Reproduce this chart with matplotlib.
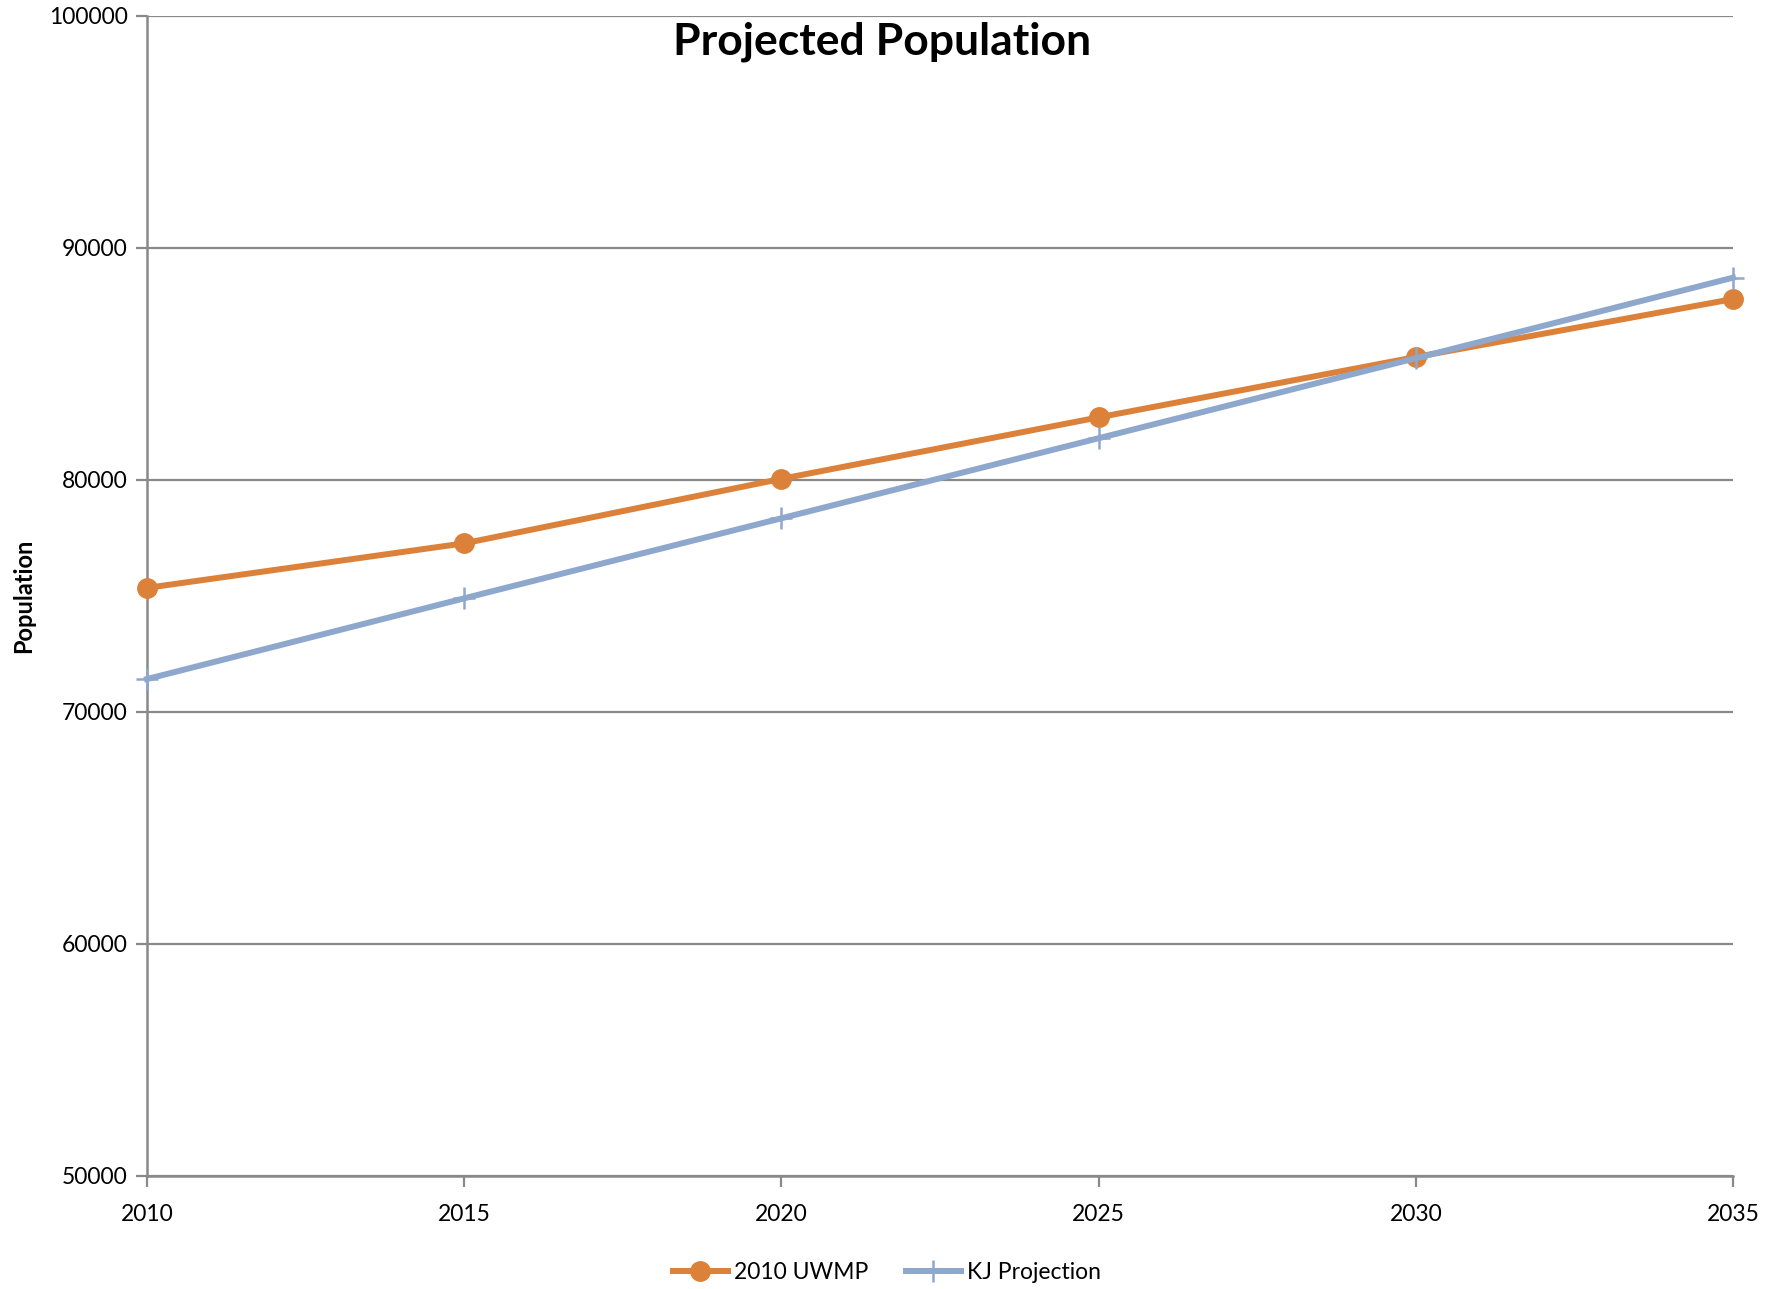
import matplotlib
matplotlib.use("Agg")
import matplotlib.pyplot as plt

years = [2010, 2015, 2020, 2025, 2030, 2035]
uwmp_2010 = [75350, 77270, 80050, 82700, 85300, 87800]
kj_projection = [71420, 74900, 78350, 81800, 85250, 88720]
y_ticks = [50000, 60000, 70000, 80000, 90000, 100000]

plt.rcParams['font.family'] = ['Lato', 'DejaVu Sans']

fig = plt.figure(figsize=(17.83, 12.89), dpi=100)
ax = fig.add_axes([147/1783, 1 - 1176/1289, (1733-147)/1783, (1176-16)/1289])

grid_c = '#898989'
ax.plot(years, uwmp_2010, color='#DC8139', lw=4.3, marker='o', markersize=14,
        label='2010 UWMP', clip_on=False, zorder=3)
ax.plot(years, kj_projection, color='#8EA7CC', lw=4.3, marker='+', markersize=16,
        markeredgewidth=1.8, label='KJ Projection', clip_on=False, zorder=4)

ax.set_xlim(2010, 2035)
ax.set_ylim(50000, 100000)
ax.set_xticks(years)
ax.set_yticks(y_ticks)
ax.set_yticklabels([str(v) for v in y_ticks])
ax.set_xticklabels([str(v) for v in years])
ax.yaxis.grid(True, color=grid_c, lw=1.6)
ax.set_axisbelow(True)
for s in ['top', 'right']:
    ax.spines[s].set_visible(False)
for s in ['left', 'bottom']:
    ax.spines[s].set_color(grid_c)
    ax.spines[s].set_linewidth(1.8)
ax.tick_params(axis='both', colors=grid_c, labelcolor='black', labelsize=16.5,
               width=1.6, length=8, direction='out')
ax.tick_params(axis='x', pad=12)
ax.tick_params(axis='y', pad=6)

ax.set_ylabel('Population', fontsize=17, fontweight='bold', labelpad=10)

fig.text(882/1783, 1 - 42/1289, 'Projected Population', ha='center', va='center',
         fontsize=32, fontweight='bold')

fig.legend(loc='lower center', bbox_to_anchor=(887/1783, -0.011), ncol=2, frameon=False,
           fontsize=16.5, handlelength=2.4, columnspacing=1.6, handletextpad=0.3)

fig.savefig('out.png', dpi=100)
